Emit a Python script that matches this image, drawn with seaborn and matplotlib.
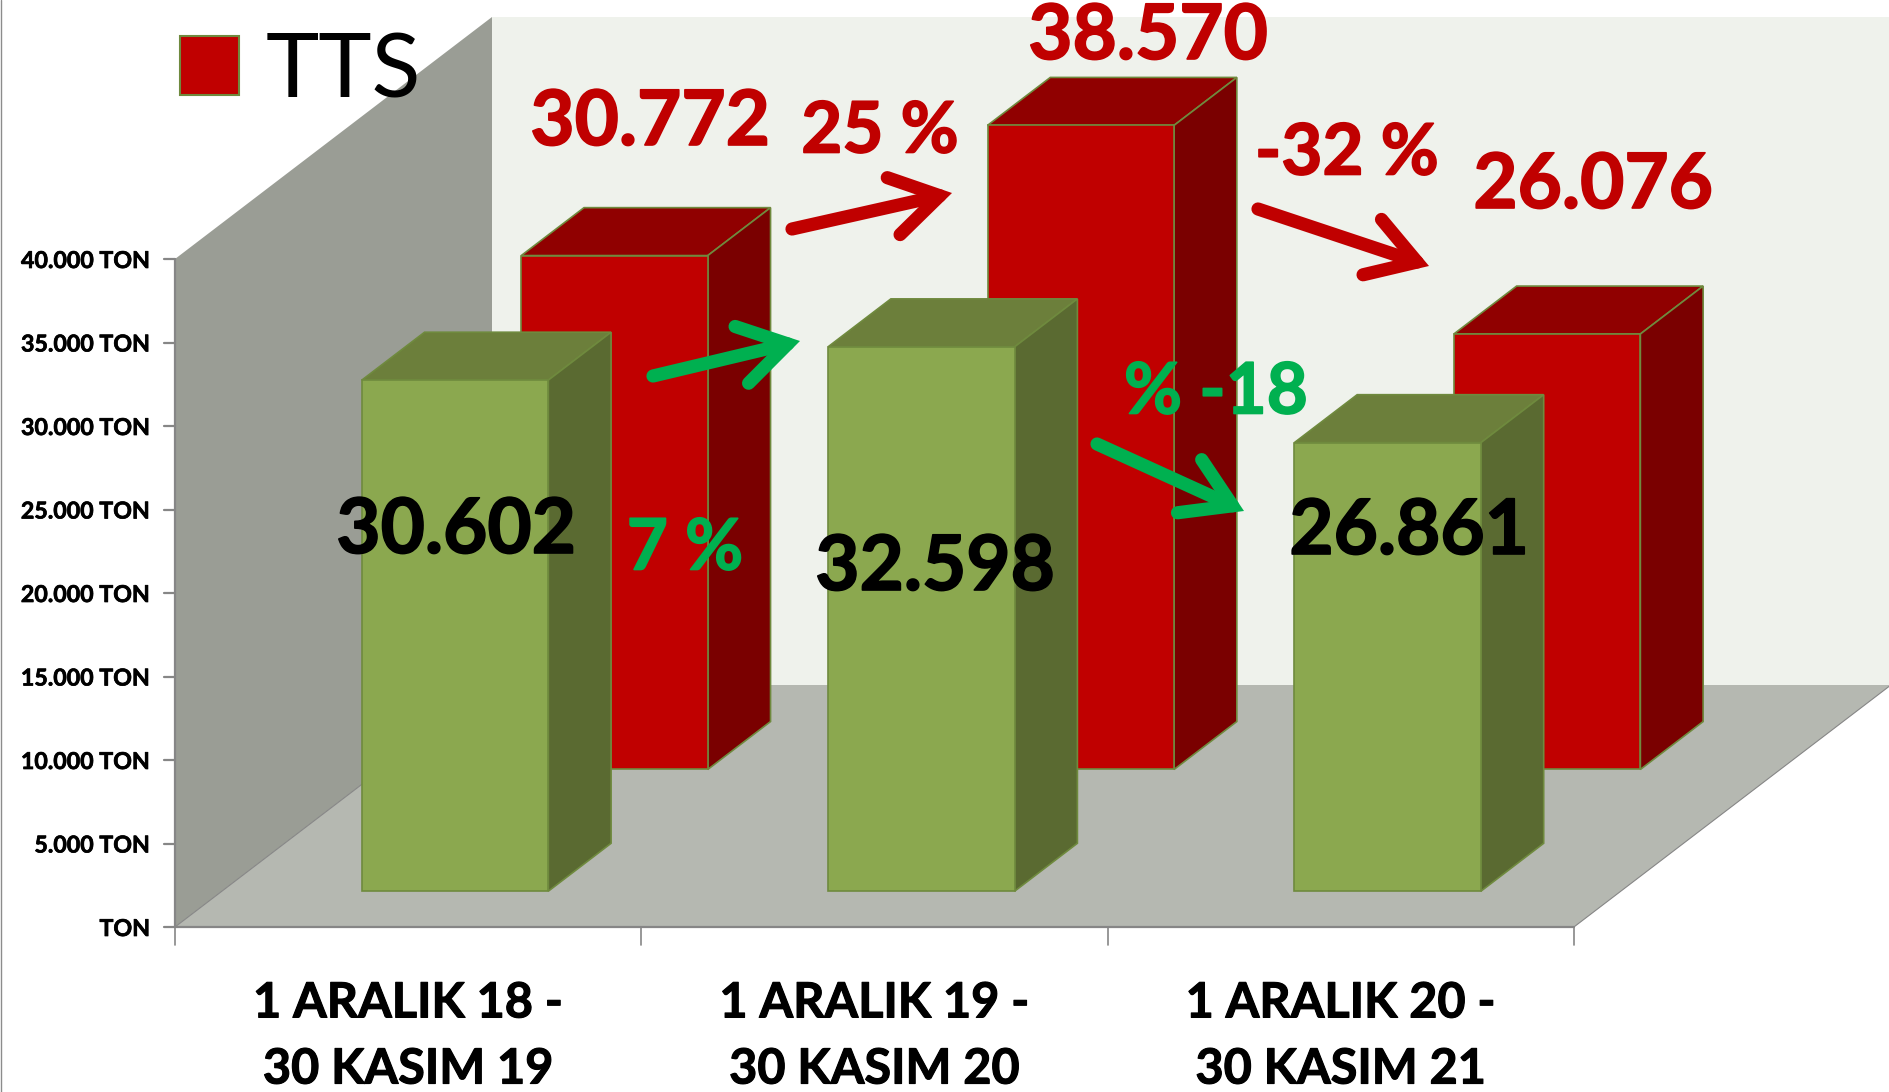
import matplotlib
matplotlib.use('Agg')
import matplotlib.pyplot as plt
import matplotlib.patheffects as pe
from matplotlib.patches import Patch
import pandas as pd
import seaborn as sns

periods = ['1 ARALIK 18 -\n30 KASIM 19', '1 ARALIK 19 -\n30 KASIM 20', '1 ARALIK 20 -\n30 KASIM 21']
tts_values = [30772, 38570, 26076]
green_values = [30602, 32598, 26861]
y_ticks = [0, 5000, 10000, 15000, 20000, 25000, 30000, 35000, 40000]
y_tick_labels = ['TON', '5.000 TON', '10.000 TON', '15.000 TON', '20.000 TON',
                 '25.000 TON', '30.000 TON', '35.000 TON', '40.000 TON']
tts_labels = ['30.772', '38.570', '26.076']
green_labels = ['30.602', '32.598', '26.861']

W, H = 1890, 1092
PX_X = 466.3      # pixels per category
PX_Y = 0.0167     # pixels per ton
DX = 317 / PX_X   # full chart depth, in category units
DY = 242 / PX_Y   # full chart depth, in tons
BAR_W = 0.400

RED, RED_TOP, RED_SIDE = '#C00000', '#900000', '#7A0000'
GREEN, GREEN_TOP, GREEN_SIDE = '#8BA84F', '#6C7F3B', '#5A6A31'
EDGE = '#6F8A3E'
WALL, SIDE_WALL, FLOOR = '#EFF2EC', '#9A9D95', '#B5B8B1'
AXIS = '#868686'
TEXT_RED, TEXT_GREEN = '#C00000', '#00B050'


def shift(pts):
    return [(x + d * DX, y + d * DY) for x, y, d in pts]


def poly(ax, pts, color, edge=None, lw=0):
    xs, ys = zip(*shift(pts))
    ax.fill(xs, ys, facecolor=color, edgecolor=edge if edge else color, linewidth=lw)


def draw_series(ax, values, d0, d1, front, top, side):
    # top and side faces, then the front through seaborn
    for i, v in enumerate(values):
        x0, x1 = i - BAR_W / 2, i + BAR_W / 2
        poly(ax, [(x0, v, d0), (x1, v, d0), (x1, v, d1), (x0, v, d1)], top, EDGE, 1.2)
        poly(ax, [(x1, 0, d0), (x1, 0, d1), (x1, v, d1), (x1, v, d0)], side, EDGE, 1.2)
    df = pd.DataFrame({'pos': [i + d0 * DX for i in range(len(values))], 'value': values})
    sns.barplot(data=df, x='pos', y='value', native_scale=True, width=BAR_W, color=front,
                saturation=1, errorbar=None, bottom=d0 * DY, edgecolor=EDGE, linewidth=1.2, ax=ax)


def frac(x, y):
    return x / W, 1 - y / H


def heavy(color, width):
    # Lato bold is a bit lighter than the font in the picture
    return [pe.withStroke(linewidth=width, foreground=color)]


def label(ax, x, y, s, color, size):
    ax.text(*frac(x, y), s, transform=ax.transAxes, color=color, fontsize=size, fontweight='bold',
            ha='center', va='center', zorder=6, path_effects=heavy(color, 1.2))


def arrow(ax, start, end, color):
    ax.annotate('', xy=frac(*end), xytext=frac(*start), xycoords='axes fraction',
                textcoords='axes fraction', zorder=5,
                arrowprops=dict(arrowstyle='->,head_length=1.7,head_width=1.05', color=color,
                                lw=9.5, shrinkA=0, shrinkB=0, mutation_scale=20,
                                joinstyle='miter', capstyle='round'))


sns.set_theme(style='white')
plt.rcParams['font.family'] = ['Lato', 'DejaVu Sans']

fig = plt.figure(figsize=(W / 100, H / 100), dpi=100)
ax = fig.add_axes([0, 0, 1, 1])

# chart box: walls and floor
n = len(periods)
L, R = -0.5, n - 0.5
poly(ax, [(L, 0, 1), (R, 0, 1), (R, 40000, 1), (L, 40000, 1)], WALL)
poly(ax, [(L, 0, 0), (L, 0, 1), (L, 40000, 1), (L, 40000, 0)], SIDE_WALL)
poly(ax, [(L, 0, 0), (R, 0, 0), (R, 0, 1), (L, 0, 1)], FLOOR)
ax.plot([L, L + DX], [0, DY], color=AXIS, lw=0.8, zorder=1)
ax.plot([R, R + DX], [0, DY], color=AXIS, lw=0.8, zorder=1)

draw_series(ax, tts_values, 0.651, 0.849, RED, RED_TOP, RED_SIDE)
draw_series(ax, green_values, 0.148, 0.346, GREEN, GREEN_TOP, GREEN_SIDE)

# axis lines and ticks
ax.plot([L, L], [0, 40000], color=AXIS, lw=1.6, zorder=3)
ax.plot([L, R], [0, 0], color=AXIS, lw=1.6, zorder=3)
for t, s in zip(y_ticks, y_tick_labels):
    ax.plot([L - 11 / PX_X, L], [t, t], color=AXIS, lw=1.6, zorder=3)
    ax.text(L - 25 / PX_X, t - 2.5 / PX_Y, s, ha='right', va='center', fontsize=16.7,
            fontweight='bold', color='black', path_effects=heavy('black', 0.5))
for i in range(n + 1):
    ax.plot([L + i, L + i], [0, -18 / PX_Y], color=AXIS, lw=1.2, zorder=3)
for i, s in enumerate(periods):
    ax.text(i, -109 / PX_Y, s, ha='center', va='center', fontsize=35, fontweight='bold',
            color='black', linespacing=1.57, path_effects=heavy('black', 0.8))

for (x, y), s in zip([(650, 123), (1148, 37), (1593, 186)], tts_labels):
    label(ax, x, y, s, TEXT_RED, 55)
for (x, y), s in zip([(456, 531), (935, 568), (1409, 532)], green_labels):
    label(ax, x, y, s, 'black', 55)
label(ax, 880, 132, '25 %', TEXT_RED, 51)
label(ax, 1347, 154, '-32 %', TEXT_RED, 51)
label(ax, 685, 549, '7 %', TEXT_GREEN, 51)
label(ax, 1216, 393, '% -18', TEXT_GREEN, 51)

arrow(ax, (792, 229), (952, 193), TEXT_RED)
arrow(ax, (1258, 209), (1429, 266), TEXT_RED)
arrow(ax, (653, 376), (800, 341), TEXT_GREEN)
arrow(ax, (1097, 444), (1244, 511), TEXT_GREEN)

leg = ax.legend(handles=[Patch(facecolor=RED, edgecolor=EDGE, linewidth=1.5, label='TTS')],
                loc='upper left', bbox_to_anchor=frac(99, -50), bbox_transform=ax.transAxes,
                frameon=False, fontsize=65, handlelength=0.65, handleheight=0.64,
                handletextpad=0.3, labelcolor='black')

# faint frame line on the left edge of the picture
ax.plot([-0.5 - 174.5 / PX_X] * 2, [-165 / PX_Y, 927 / PX_Y], color='#8c8c8c', lw=1.0)

ax.set_xlim(-0.5 - 175 / PX_X, -0.5 + (W - 175) / PX_X)
ax.set_ylim(-(H - 927) / PX_Y, 927 / PX_Y)
ax.axis('off')

fig.savefig('out.png', dpi=100)
